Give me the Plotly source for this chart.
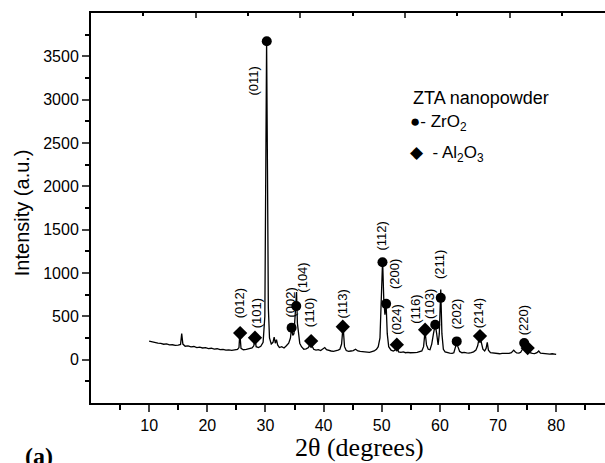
import plotly.graph_objects as go

# ---- Data ----
two_theta = [10.0, 10.5, 11.0, 11.5, 12.0, 12.5, 13.0, 13.5, 14.0, 14.5, 15.0, 15.4, 15.6, 15.8,
             16.2, 16.7, 17.2, 17.7, 18.2, 18.7, 19.2, 19.7, 20.2, 20.7, 21.2, 21.7, 22.2, 22.7,
             23.2, 23.7, 24.2, 24.7, 25.2, 25.45, 25.6, 25.8, 26.2, 26.7, 27.2, 27.7, 28.0, 28.2,
             28.4, 28.8, 29.2, 29.6, 29.9, 30.1, 30.2, 30.35, 30.5, 30.7, 31.0, 31.3, 31.5, 31.7,
             31.9, 32.1, 32.4, 32.8, 33.2, 33.6, 34.0, 34.3, 34.5, 34.7, 34.9, 35.1, 35.35, 35.5,
             35.7, 35.9, 36.2, 36.6, 37.0, 37.4, 37.6, 37.8, 38.0, 38.3, 38.7, 39.1, 39.5, 39.9,
             40.2, 40.5, 40.9, 41.3, 41.7, 42.1, 42.5, 42.8, 43.1, 43.35, 43.6, 43.9, 44.3, 44.7,
             45.1, 45.5, 45.9, 46.3, 46.7, 47.1, 47.5, 47.9, 48.3, 48.7, 49.1, 49.4, 49.7, 49.95,
             50.15, 50.35, 50.55, 50.75, 50.95, 51.2, 51.6, 52.0, 52.3, 52.5, 52.7, 52.9, 53.3,
             53.7, 54.1, 54.5, 54.9, 55.3, 55.7, 56.1, 56.5, 56.9, 57.2, 57.45, 57.7, 58.0, 58.3,
             58.6, 58.9, 59.2, 59.45, 59.7, 59.9, 60.15, 60.35, 60.6, 60.9, 61.3, 61.7, 62.1,
             62.4, 62.7, 62.9, 63.1, 63.4, 63.8, 64.2, 64.6, 65.0, 65.4, 65.8, 66.2, 66.5, 66.85,
             67.1, 67.4, 67.7, 67.95, 68.15, 68.35, 68.7, 69.1, 69.5, 69.9, 70.3, 70.7, 71.1,
             71.5, 71.9, 72.3, 72.7, 72.9, 73.2, 73.6, 73.9, 74.2, 74.45, 74.7, 74.95, 75.2,
             75.5, 75.9, 76.3, 76.7, 77.0, 77.3, 77.7, 78.1, 78.5, 78.9, 79.3, 79.7, 80.0]
intensity = [215, 205, 200, 192, 188, 178, 182, 170, 172, 165, 168, 175, 300, 180,
             155, 160, 148, 152, 140, 145, 135, 138, 128, 132, 122, 126, 115, 118,
             110, 114, 108, 112, 118, 140, 305, 130, 115, 120, 125, 135, 160, 255,
             150, 140, 155, 200, 500, 2500, 3680, 2200, 600, 250, 180, 200, 260, 190,
             230, 170, 140, 150, 135, 160, 190, 250, 370, 280, 300, 500, 780, 420,
             260, 190, 150, 120, 125, 140, 170, 210, 160, 120, 110, 115, 105, 130,
             140, 115, 105, 100, 95, 100, 110, 120, 180, 390, 150, 105, 95, 100,
             105, 120, 100, 95, 90, 85, 88, 85, 90, 100, 120, 150, 250, 700,
             1150, 700, 520, 650, 300, 150, 110, 100, 110, 170, 140, 90, 85,
             90, 80, 85, 80, 78, 82, 85, 90, 100, 150, 330, 170, 120, 115,
             180, 300, 405, 300, 170, 300, 810, 300, 120, 90, 80, 75, 72,
             80, 150, 200, 150, 95, 80, 85, 78, 75, 82, 90, 110, 160, 280,
             200, 120, 100, 130, 200, 110, 80, 75, 72, 70, 68, 72, 70,
             75, 72, 80, 110, 95, 78, 75, 85, 120, 180, 150, 140, 110,
             80, 72, 70, 80, 100, 75, 72, 68, 70, 65, 68, 62, 60]

zro2_x = [30.23, 34.5, 35.3, 50.13, 50.76, 59.2, 60.15, 62.9, 74.5]
zro2_y = [3674, 368, 618, 1124, 644, 403, 713, 211, 192]

al2o3_x = [25.65, 28.2, 37.86, 43.3, 52.6, 57.46, 66.9, 75.1]
al2o3_y = [307, 253, 215, 380, 173, 345, 272, 134]

hkl_labels = ["(011)", "(012)", "(101)", "(002)", "(104)", "(110)", "(113)", "(112)",
              "(200)", "(024)", "(116)", "(103)", "(211)", "(202)", "(214)", "(220)"]
hkl_x = [27.93, 25.54, 28.52, 34.36, 36.43, 37.56, 43.3, 50.02,
         52.3, 52.6, 55.9, 58.33, 60.04, 63.0, 66.64, 74.37]
hkl_y = [3214, 644, 533, 656, 944, 541, 644, 1430,
         990, 460, 575, 644, 1093, 529, 541, 460]

x_ticks = [10, 20, 30, 40, 50, 60, 70, 80]
y_ticks = [0, 500, 1000, 1500, 2000, 2500, 3000, 3500]

fig = go.Figure()
fig.add_trace(go.Scatter(x=two_theta, y=intensity, mode="lines",
                         line=dict(color="black", width=1.3), showlegend=False))
fig.add_trace(go.Scatter(x=zro2_x, y=zro2_y, mode="markers",
                         marker=dict(symbol="circle", size=10, color="black"), showlegend=False))
fig.add_trace(go.Scatter(x=al2o3_x, y=al2o3_y, mode="markers",
                         marker=dict(symbol="diamond", size=11, color="black"), showlegend=False))
# invisible trace to activate top axis
fig.add_trace(go.Scatter(x=[0], y=[0], xaxis="x2", mode="markers",
                         marker=dict(opacity=0), showlegend=False, hoverinfo="skip"))

for t, x, y in zip(hkl_labels, hkl_x, hkl_y):
    fig.add_annotation(x=x, y=y, text=t, textangle=-90, showarrow=False,
                       font=dict(family="Liberation Sans", size=13, color="black"))

fig.add_annotation(xref="paper", yref="paper", x=0.622, y=0.782, xanchor="left",
                   yanchor="middle", text="ZTA nanopowder", showarrow=False,
                   font=dict(family="Liberation Sans", size=18, color="black"))
fig.add_annotation(xref="paper", yref="paper", x=0.617, y=0.718, xanchor="left",
                   yanchor="middle", text="●- ZrO<sub>2</sub>", showarrow=False,
                   font=dict(family="Liberation Sans", size=17, color="black"))
fig.add_annotation(xref="paper", yref="paper", x=0.617, y=0.638, xanchor="left",
                   yanchor="middle", text="◆  - Al<sub>2</sub>O<sub>3</sub>", showarrow=False,
                   font=dict(family="Liberation Sans", size=17, color="black"))

fig.add_annotation(xref="paper", yref="paper", x=0.523, y=-0.115, xanchor="center",
                   yanchor="middle", text="2θ (degrees)", showarrow=False,
                   font=dict(family="Liberation Serif", size=26, color="black"))
fig.add_annotation(xref="paper", yref="paper", x=-0.133, y=-0.137, xanchor="left",
                   yanchor="middle", text="<b>(a)</b>", showarrow=False,
                   font=dict(family="Liberation Serif", size=24, color="black"))
fig.add_annotation(xref="paper", yref="paper", x=-0.134, y=0.487, xanchor="center",
                   yanchor="middle", text="Intensity (a.u.)", textangle=-90, showarrow=False,
                   font=dict(family="Liberation Sans", size=20, color="black"))

fig.update_layout(
    width=605, height=463,
    margin=dict(l=91, r=0, t=13, b=60),
    paper_bgcolor="white", plot_bgcolor="white",
    font=dict(family="Liberation Sans", color="black"),
    xaxis=dict(range=[0, 88.4], tickvals=x_ticks, ticks="outside", ticklen=7, tickwidth=2,
               showline=True, linewidth=2, linecolor="black", showgrid=False, zeroline=False,
               tickfont=dict(size=16, color="black"),
               minor=dict(tickvals=[5, 15, 25, 35, 45, 55, 65, 75, 85], ticks="outside",
                          ticklen=5, tickwidth=2, tickcolor="black")),
    xaxis2=dict(range=[0, 88.4], overlaying="x", side="top", tickvals=[18, 36, 54, 72],
                ticks="inside", ticklen=5, tickwidth=2, showticklabels=False,
                showline=True, linewidth=2, linecolor="black", showgrid=False, zeroline=False,
                minor=dict(tickvals=[9, 27, 45, 63, 81], ticks="inside", ticklen=3,
                           tickwidth=2, tickcolor="black")),
    yaxis=dict(range=[-500, 4000], tickvals=y_ticks, ticks="outside", ticklen=7, tickwidth=2,
               showline=True, linewidth=2, linecolor="black", showgrid=False, zeroline=False,
               tickfont=dict(size=16, color="black"),
               minor=dict(tickvals=[-250, 250, 750, 1250, 1750, 2250, 2750, 3250, 3750],
                          ticks="outside", ticklen=4, tickwidth=2, tickcolor="black")),
)

fig.write_html("out.html")
